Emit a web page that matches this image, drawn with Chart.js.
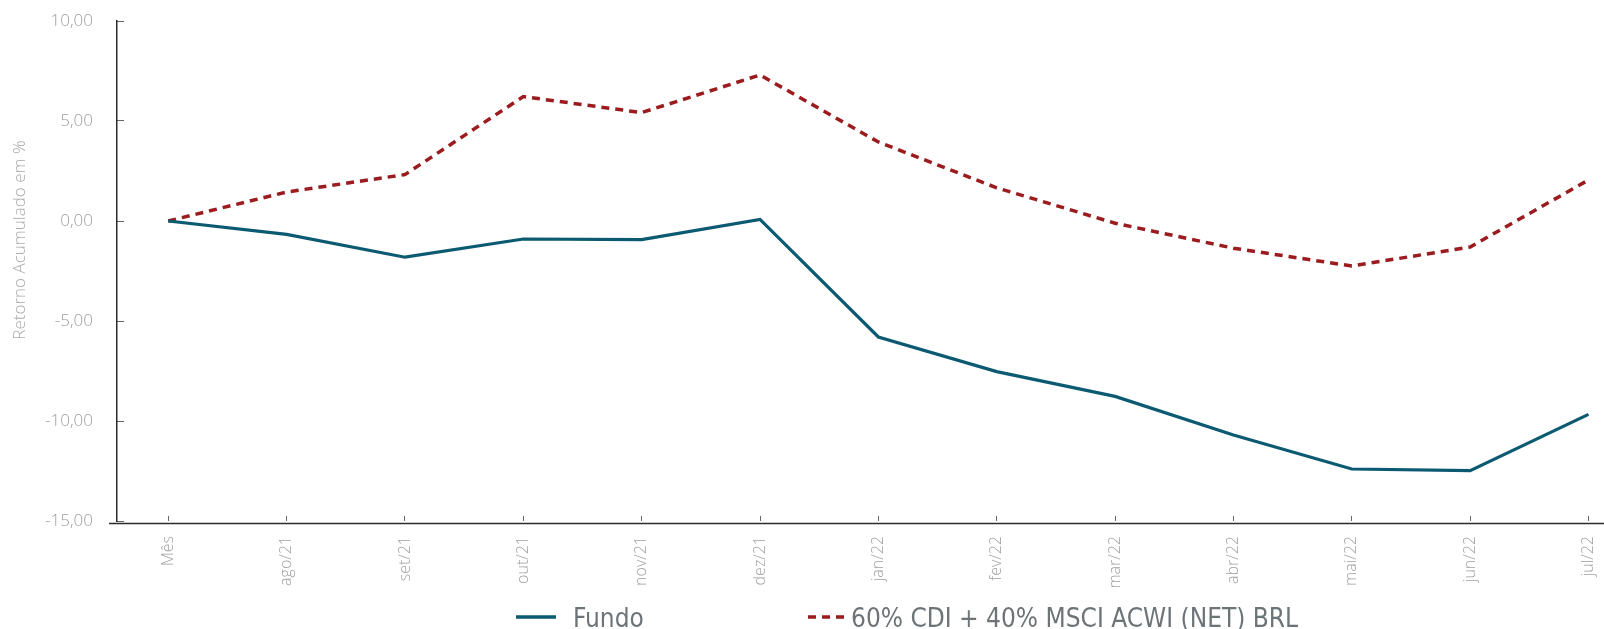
<!DOCTYPE html>
<html>
<head>
<meta charset="utf-8">
<script src="https://cdn.jsdelivr.net/npm/chart.js@4.4.1/dist/chart.umd.min.js"></script>
<style>
  html, body { margin: 0; padding: 0; background: #fff; }
  #wrap { position: relative; width: 1604px; height: 629px; }
</style>
</head>
<body>
<div id="wrap"><canvas id="chart"></canvas></div>
<script>
// Retorno acumulado: fundo vs benchmark

const MONTHS = ['Mês', 'ago/21', 'set/21', 'out/21', 'nov/21', 'dez/21',
  'jan/22', 'fev/22', 'mar/22', 'abr/22', 'mai/22', 'jun/22', 'jul/22'];
const FUNDO = [0, -0.67, -1.81, -0.90, -0.93, 0.08, -5.80, -7.53, -8.77, -10.70, -12.40, -12.48, -9.67];
const BENCH = [0, 1.45, 2.32, 6.22, 5.42, 7.30, 3.95, 1.66, -0.11, -1.36, -2.25, -1.30, 2.05];
const SERIES_NAMES = ['Fundo', '60% CDI + 40% MSCI ACWI (NET) BRL'];
const Y_TITLE = 'Retorno Acumulado em %';
const Y_MIN = -15, Y_MAX = 10, Y_STEP = 5;

const COLORS = {
  fundo: '#0b5a72',
  bench: '#9b1b1e',
  axis: '#2b2b2b',
  tick: '#a0a0a0',
  legend: '#6d7477',
};

const toPoints = (arr) => arr.map((y, x) => ({ x, y }));

// y-axis title, x baseline and legend drawn by hand so the spacing matches the original
const extrasPlugin = {
  id: 'extras',
  afterDraw(chart) {
    const { ctx, chartArea } = chart;

    // x baseline sits a touch below the plot and pokes out left of the y axis
    ctx.save();
    ctx.strokeStyle = COLORS.axis;
    ctx.lineWidth = 1.5;
    ctx.beginPath();
    ctx.moveTo(chartArea.left - 8, chartArea.bottom + 2.5);
    ctx.lineTo(chartArea.right, chartArea.bottom + 2.5);
    ctx.stroke();
    ctx.restore();

    ctx.save();
    ctx.translate(20, 240);
    ctx.rotate(-Math.PI / 2);
    ctx.font = '300 17px "Open Sans"';
    ctx.fillStyle = '#ababab';
    ctx.textAlign = 'center';
    ctx.textBaseline = 'middle';
    ctx.fillText(Y_TITLE, 0, 0);
    ctx.restore();

    const slots = [{ x: 516, tx: 573 }, { x: 808, tx: 851 }];
    chart.data.datasets.forEach((ds, i) => {
      const s = slots[i];
      ctx.save();
      ctx.strokeStyle = ds.borderColor;
      ctx.lineWidth = 3.5;
      ctx.setLineDash(ds.borderDash || []);
      ctx.beginPath();
      ctx.moveTo(s.x, 617);
      ctx.lineTo(s.x + 40, 617);
      ctx.stroke();
      ctx.font = '26px "Liberation Sans Narrow", "DejaVu Sans Condensed", sans-serif';
      ctx.fillStyle = COLORS.legend;
      ctx.textBaseline = 'middle';
      ctx.fillText(ds.label, s.tx, 620);
      ctx.restore();
    });
  },
};

Chart.defaults.font.family = '"Open Sans", sans-serif';

new Chart(document.getElementById('chart'), {
  type: 'line',
  data: {
    datasets: [
      {
        label: SERIES_NAMES[0],
        data: toPoints(FUNDO),
        borderColor: COLORS.fundo,
        borderWidth: 3.2,
        pointRadius: 0,
        tension: 0,
      },
      {
        label: SERIES_NAMES[1],
        data: toPoints(BENCH),
        borderColor: COLORS.bench,
        borderWidth: 3.5,
        borderDash: [8, 6],
        pointRadius: 0,
        tension: 0,
      },
    ],
  },
  options: {
    responsive: true,
    maintainAspectRatio: false,
    animation: false,
    layout: { padding: { top: 21, right: 0, bottom: 0, left: 0 } },
    plugins: { legend: { display: false }, tooltip: { enabled: false } },
    scales: {
      x: {
        type: 'linear',
        min: -0.433,
        max: 12.131,
        // same as y: keep label padding from shrinking the plot
        afterFit: (s) => { s.height = 108; s.paddingLeft = 0; s.paddingRight = 0; },
        afterBuildTicks: (s) => { s.ticks = MONTHS.map((_, i) => ({ value: i })); },
        ticks: {
          autoSkip: false,
          minRotation: 90,
          maxRotation: 90,
          padding: 20,
          color: COLORS.tick,
          font: { size: 16, weight: '300' },
          callback: (v) => MONTHS[v],
        },
        grid: { drawOnChartArea: false, tickLength: -5, color: '#666', offset: false },
        border: { display: false },
      },
      y: {
        min: Y_MIN,
        max: Y_MAX,
        // tick padding would otherwise push the plot down
        afterFit: (s) => { s.width = 117; s.paddingTop = 0; s.paddingBottom = 0; },
        ticks: {
          stepSize: Y_STEP,
          padding: 31,
          color: COLORS.tick,
          font: { size: 17, weight: '300' },
          callback: (v) => v.toFixed(2).replace('.', ','),
        },
        grid: { drawOnChartArea: false, tickLength: -7, color: '#666' },
        border: { color: COLORS.axis, width: 1.5 },
      },
    },
  },
  plugins: [extrasPlugin],
});
</script>
</body>
</html>
